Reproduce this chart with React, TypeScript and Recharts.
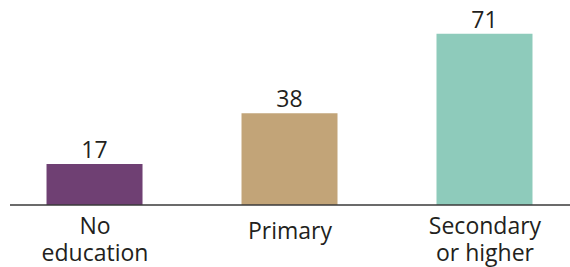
import { BarChart, Bar, XAxis, YAxis, Cell, LabelList } from "recharts";

const categories = ["No\neducation", "Primary", "Secondary\nor higher"];
const values = [17, 38, 71];
const colors = ["#6f4073", "#c2a478", "#8ecbbb"];

const data = categories.map((name, i) => ({ idx: i, name, value: values[i] }));

const FONT = "'Open Sans', sans-serif";
const TEXT = "#231f20";

function CategoryTick(props: any) {
  const { x, y, payload } = props;
  const lines = String(categories[payload.value] ?? "").split("\n");
  const first = lines.length > 1 ? 29 : 34;
  return (
    <text x={x} y={y} textAnchor="middle" fill={TEXT} fontSize={23} fontFamily={FONT}>
      {lines.map((line, i) => (
        <tspan key={i} x={x} y={y + first + i * 27}>
          {line}
        </tspan>
      ))}
    </text>
  );
}

export default function App() {
  return (
    <div style={{ position: "absolute", left: 0, top: 0 }}>
      <BarChart
        width={570}
        height={267}
        data={data}
        margin={{ top: 12, right: 0, left: 10, bottom: 2 }}
      >
        <XAxis
          dataKey="idx"
          type="number"
          domain={[-0.436, 2.436]}
          ticks={[0, 1, 2]}
          tick={<CategoryTick />}
          tickLine={false}
          tickSize={0}
          tickMargin={0}
          axisLine={{ stroke: "#3a3a3a", strokeWidth: 1.5 }}
          height={60}
          interval={0}
          allowDataOverflow
        />
        <YAxis hide domain={[0, 80]} />
        <Bar dataKey="value" barSize={96} isAnimationActive={false}>
          {data.map((d, i) => (
            <Cell key={d.name} fill={colors[i]} />
          ))}
          <LabelList
            dataKey="value"
            position="top"
            offset={6}
            fill={TEXT}
            fontSize={23}
            fontFamily={FONT}
          />
        </Bar>
      </BarChart>
    </div>
  );
}
